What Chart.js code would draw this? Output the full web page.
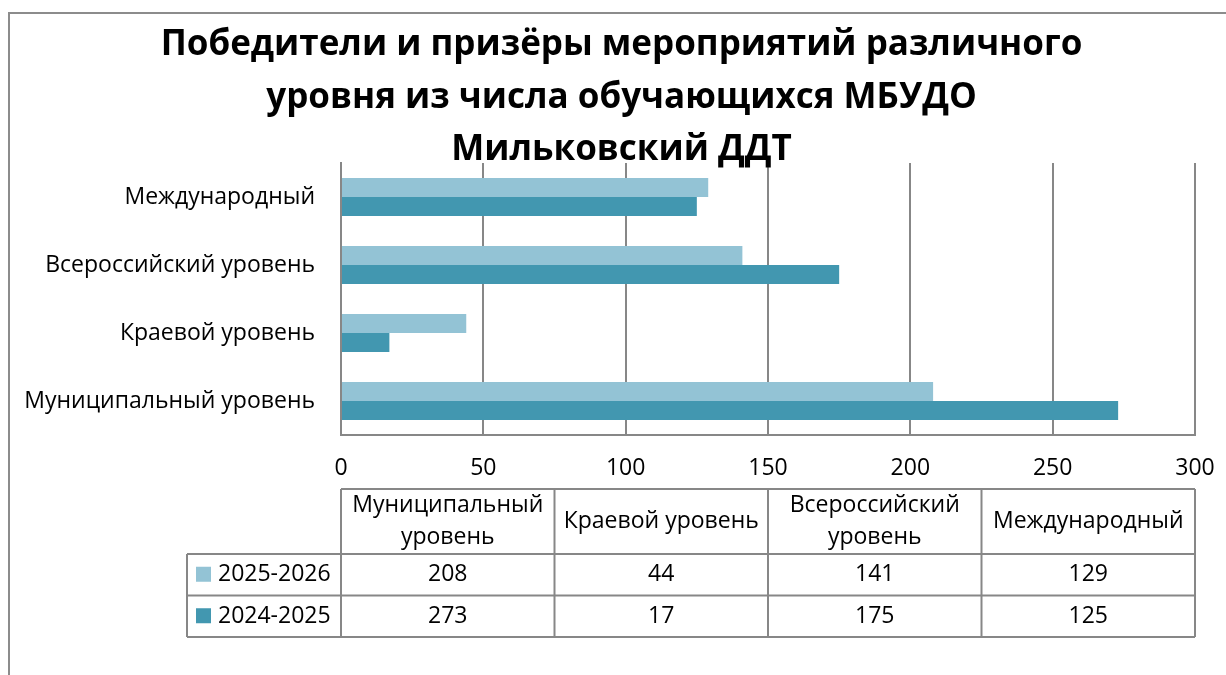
<!DOCTYPE html>
<html lang="ru">
<head>
<meta charset="UTF-8">
<title>Победители и призёры мероприятий</title>
<script src="https://cdn.jsdelivr.net/npm/chart.js"></script>
<style>
  html, body { margin: 0; padding: 0; background: #fff; }
  canvas { display: block; }
</style>
</head>
<body>
<canvas id="chart" width="1226" height="675"></canvas>
<script>
  // данные с диаграммы
  const categories = ['Муниципальный уровень', 'Краевой уровень', 'Всероссийский уровень', 'Международный'];
  const seriesNames = ['2025-2026', '2024-2025'];
  const values2526 = [208, 44, 141, 129];
  const values2425 = [273, 17, 175, 125];
  const xTicks = [0, 50, 100, 150, 200, 250, 300];
  const titleLines = ['Победители и призёры мероприятий различного', 'уровня из числа обучающихся МБУДО', 'Мильковский ДДТ'];

  const FONT = 'Open Sans';
  const FSIZE = 23;
  const gridColor = '#878787';

  // рамка вокруг диаграммы + сдвиг заголовка вправо
  const framePlugin = {
    id: 'frame',
    afterLayout(chart) {
      const t = chart.titleBlock;
      if (t) { t.left += 48; t.width -= 48; }
    },
    beforeDraw(chart) {
      const ctx = chart.ctx;
      ctx.save();
      ctx.strokeStyle = '#8c8c8c';
      ctx.lineWidth = 2;
      ctx.strokeRect(9, 13, 1300, 800);
      ctx.restore();
    }
  };

  // таблица данных под осью
  const tablePlugin = {
    id: 'dataTable',
    afterDraw(chart) {
      const ctx = chart.ctx;
      const a = chart.chartArea;
      const colW = (a.right - a.left) / categories.length;
      const top = 489, headBottom = 554, rowH = 41.5;
      const bottom = headBottom + rowH * seriesNames.length;
      const legendLeft = 187;

      ctx.save();
      ctx.strokeStyle = gridColor;
      ctx.lineWidth = 2;
      ctx.beginPath();
      ctx.moveTo(a.left, top); ctx.lineTo(a.right, top);
      for (let r = 0; r <= seriesNames.length; r++) {
        const y = headBottom + r * rowH;
        ctx.moveTo(legendLeft, y); ctx.lineTo(a.right, y);
      }
      ctx.moveTo(legendLeft, headBottom); ctx.lineTo(legendLeft, bottom);
      for (let c = 0; c <= categories.length; c++) {
        const x = a.left + c * colW;
        ctx.moveTo(x, top); ctx.lineTo(x, bottom);
      }
      ctx.stroke();

      ctx.fillStyle = '#000';
      ctx.font = FSIZE + 'px ' + FONT;
      ctx.textAlign = 'center';
      ctx.textBaseline = 'middle';

      // заголовки столбцов
      categories.forEach((cat, i) => {
        const cx = a.left + (i + 0.5) * colW;
        let lines = [cat];
        if (ctx.measureText(cat).width > colW - 8) lines = cat.split(' ');
        const lh = 32;
        const cy = (top + headBottom) / 2 - (lines.length - 1) * lh / 2;
        lines.forEach((l, k) => ctx.fillText(l, cx, cy + k * lh));
      });

      // строки рядов
      chart.data.datasets.forEach((ds, r) => {
        const cy = headBottom + (r + 0.5) * rowH;
        ctx.fillStyle = ds.backgroundColor;
        ctx.fillRect(legendLeft + 9, cy - 8, 15, 15);
        ctx.fillStyle = '#000';
        ctx.textAlign = 'left';
        ctx.fillText(ds.label, legendLeft + 31, cy);
        ctx.textAlign = 'center';
        ds.data.forEach((v, i) => {
          ctx.fillText(String(v), a.left + (i + 0.5) * colW, cy);
        });
      });
      ctx.restore();
    }
  };

  const ctx = document.getElementById('chart').getContext('2d');
  new Chart(ctx, {
    type: 'bar',
    data: {
      labels: categories,
      datasets: [
        { label: seriesNames[0], data: values2526, backgroundColor: '#93C3D5' },
        { label: seriesNames[1], data: values2425, backgroundColor: '#4297B0' }
      ]
    },
    options: {
      indexAxis: 'y',
      responsive: false,
      animation: false,
      categoryPercentage: 0.56,
      barPercentage: 1,
      layout: { padding: { top: 19, right: 31, bottom: 0, left: 0 } },
      plugins: {
        legend: { display: false },
        tooltip: { enabled: false },
        title: {
          display: true,
          text: titleLines,
          color: '#000',
          font: { family: FONT, size: 35, weight: 'bold', lineHeight: 1.5 },
          padding: { top: 0, bottom: -13.5 }
        }
      },
      scales: {
        x: {
          min: 0,
          max: 300,
          afterBuildTicks: s => { s.ticks = xTicks.map(v => ({ value: v })); },
          afterFit: s => { s.height = 240; s.paddingLeft = 0; s.paddingRight = 0; },
          grid: { color: gridColor, lineWidth: 2, drawTicks: false },
          border: { display: true, color: gridColor, width: 2 },
          ticks: { color: '#000', font: { family: FONT, size: FSIZE }, padding: 20 }
        },
        y: {
          reverse: true,
          afterFit: s => { s.width = 341; },
          grid: { display: false, drawTicks: false },
          border: { display: true, color: gridColor, width: 2 },
          ticks: { color: '#000', font: { family: FONT, size: FSIZE }, padding: 26 }
        }
      }
    },
    plugins: [framePlugin, tablePlugin]
  });
</script>
</body>
</html>
